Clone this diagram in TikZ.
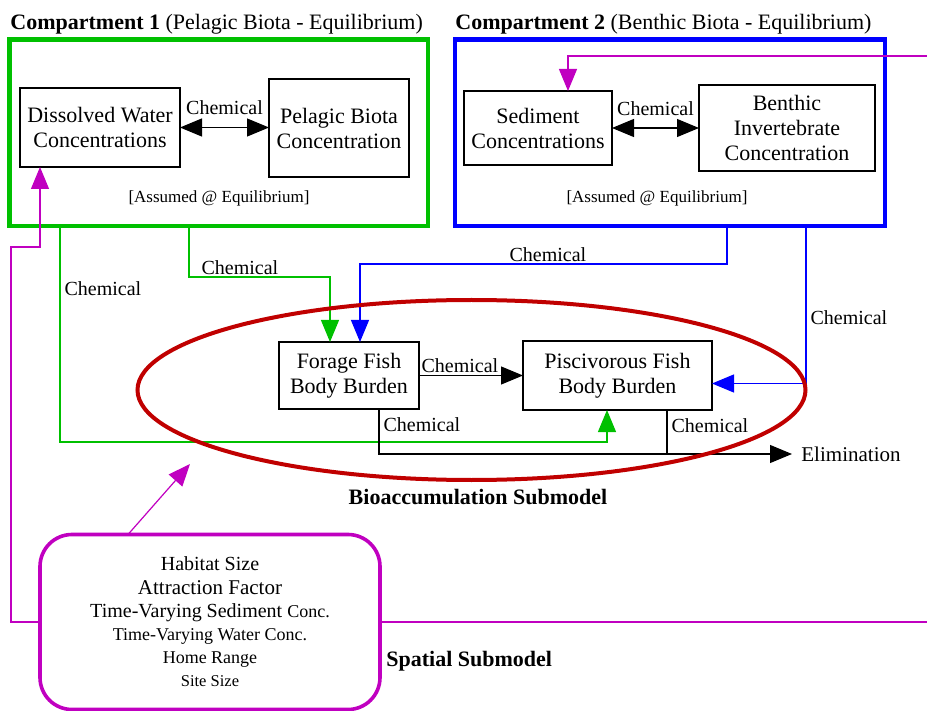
\documentclass[tikz,border=0pt]{standalone}
\usepackage{fontspec}
\setmainfont{Liberation Serif}
\usepackage{xcolor}
\definecolor{CompGreen}{RGB}{0,192,0}
\definecolor{CompBlue}{RGB}{0,0,255}
\definecolor{SpatMagenta}{RGB}{192,0,192}
\definecolor{BioRed}{RGB}{192,0,0}
\usepackage{tikz}
\usetikzlibrary{
  shapes.geometric,
  arrows.meta,
  positioning, calc
}
\newcommand{\fsz}[1]{\fontsize{#1}{12.5pt}\selectfont}
\newcommand{\fsl}[1]{\fontsize{#1}{11.6pt}\selectfont}
\tikzset{
  % Concentration / body burden box
  cbox/.style={
    rectangle, draw, line width=0.75pt,
    fill=white, align=center,
    inner sep=0pt, outer sep=0pt,
    font=\fsz{11}
  },
  % Compartment frames
  cframe/.style={rectangle, line width=2.2pt, inner sep=0pt, outer sep=0pt},
  % Titles
  ttl/.style={font=\fsz{11}, inner sep=0pt, anchor=base west},
  % Arrows
  arr/.style={-{Triangle[length=11pt,width=9pt]}, line width=0.6pt},
  darr/.style={{Triangle[length=11pt,width=9pt]}-{Triangle[length=11pt,width=9pt]}, line width=0.6pt},
  mline/.style={line width=0.7pt, SpatMagenta},
  % Edge label
  lbl/.style={font=\fsz{10}, inner sep=1pt},
}

\begin{document}
\begin{tikzpicture}[x=0.5pt, y=-0.5pt]
  \useasboundingbox (0,0) rectangle (927,711);

  \node[cframe, draw=CompGreen, minimum width=209.25pt, minimum height=93.25pt] (comp1) at (218.75,132.75) {};
  \node[cframe, draw=CompBlue, minimum width=215pt, minimum height=93.25pt] (comp2) at (670,132.75) {};
  \node[ttl] (title1) at (10,30) {\textbf{Compartment 1} (Pelagic Biota - Equilibrium)};
  \node[ttl] (title2) at (455,30) {\textbf{Compartment 2} (Benthic Biota - Equilibrium)};

  \node[cbox, minimum width=80pt, minimum height=39.5pt] (water) at (100,127.5) {Dissolved Water\\Concentrations};
  \node[cbox, minimum width=70pt, minimum height=49pt] (pelagic) at (339,128) {Pelagic Biota\\Concentration};
  \node[cbox, minimum width=74pt, minimum height=37pt] (sediment) at (538,128) {Sediment\\Concentrations};
  \node[cbox, minimum width=88pt, minimum height=43pt] (benthic) at (787,128) {Benthic\\Invertebrate\\Concentration};
  \node[font=\fsz{8.5}] (equil1) at (219,198) {[Assumed @ Equilibrium]};
  \node[font=\fsz{8.5}] (equil2) at (657,198) {[Assumed @ Equilibrium]};

  \node[cbox, minimum width=70pt, minimum height=33.5pt] (forage) at (349,375.5) {Forage Fish\\Body Burden};
  \node[cbox, minimum width=94.5pt, minimum height=34.5pt] (pisc) at (617.5,375.5) {Piscivorous Fish\\Body Burden};
  \node[font=\fsz{10.5}, anchor=west, inner sep=4.5pt] (elim) at (792,454) {Elimination};

  \node[draw=SpatMagenta, line width=1.8pt, rounded corners=16pt, minimum width=170pt, minimum height=87.5pt,
        align=center, inner sep=0pt, outer sep=0pt, font=\fsl{10}] (spatial) at (210,622)
    {Habitat Size\\{\fsl{10.5}Attraction Factor}\\Time-Varying Sediment {\fsl{9}Conc.}\\
     {\fsl{9}Time-Varying Water Conc.}\\{\fsl{9}Home Range}\\{\fsl{8.25}Site Size}};
  \node[font=\fsz{11}\bfseries, anchor=west, inner sep=0pt] (spatlbl) at (386,661) {Spatial Submodel};

  \draw[darr] (water.east) -- (water.east -| pelagic.west) node[lbl, midway, above=5pt] {Chemical};
  \draw[darr] (sediment.east) -- (sediment.east -| benthic.west) node[lbl, midway, above=5pt] {Chemical};

  \coordinate (wIn) at ([xshift=10pt]water.south west);
  \coordinate (mBend) at (11,247);
  \draw[arr, SpatMagenta] (spatial.west) -| (mBend) -| (wIn);
  \coordinate (mTop) at (927,56);
  \coordinate (sIn) at ([xshift=15pt]sediment.north);
  \draw[arr, SpatMagenta] (mTop) -| (sIn);
  \coordinate (mRight) at (927,622);
  \draw[mline] (spatial.east) -- (mRight);
  \coordinate (bioTip) at (190,464);
  \draw[arr, SpatMagenta] ([xshift=-41pt]spatial.north) -- (bioTip);

  \coordinate (g1) at ([xshift=25.25pt]comp1.south west);
  \coordinate (gLow) at (60,442);
  \coordinate (pG) at ([xshift=-5.25pt]pisc.south);
  \draw[arr, CompGreen] (g1) -- node[lbl, pos=0.29, anchor=west, xshift=1pt, black] {Chemical} (gLow) -| (pG);
  \coordinate (g2) at ([xshift=89.75pt]comp1.south west);
  \coordinate (gTurn) at (330,277);
  \coordinate (fG) at ([xshift=-9.5pt]forage.north);
  \draw[arr, CompGreen] (g2) |- node[lbl, pos=0.5, anchor=south west, xshift=5pt, black] {Chemical} (gTurn) -- (fG);

  \coordinate (b1) at ([xshift=28.5pt]comp2.south);
  \coordinate (bTurn) at (360,264);
  \coordinate (fB) at ([xshift=5.5pt]forage.north);
  \draw[arr, CompBlue] (b1) |- node[lbl, pos=0.744, anchor=south, black] {Chemical} (bTurn) -- (fB);
  \coordinate (b2) at ([xshift=68pt]comp2.south);
  \coordinate (pB) at ([yshift=-4pt]pisc.east);
  \draw[arr, CompBlue] (b2) |- node[lbl, pos=0.29, anchor=west, xshift=1pt, black] {Chemical} (pB);

  \draw[arr] (forage.east) -- node[lbl, pos=0, anchor=south west] {Chemical} (pisc.west);
  \coordinate (fE) at ([xshift=15pt]forage.south);
  \draw[arr] (fE) |- node[lbl, pos=0, anchor=north west, yshift=-3pt, xshift=1pt] {Chemical} (elim.west);
  \coordinate (pE) at ([xshift=24.75pt]pisc.south);
  \draw[line width=0.6pt] (pE) -- node[lbl, pos=0, anchor=north west, yshift=-3pt, xshift=1pt] {Chemical} (pE |- elim.west);

  \node[draw=BioRed, line width=2pt, ellipse, minimum width=334pt, minimum height=90pt, inner sep=0pt] (bioacc) at (471.5,390) {};
  \node[font=\fsz{11}\bfseries] (biolbl) at (478,497) {Bioaccumulation Submodel};
\end{tikzpicture}
\end{document}
